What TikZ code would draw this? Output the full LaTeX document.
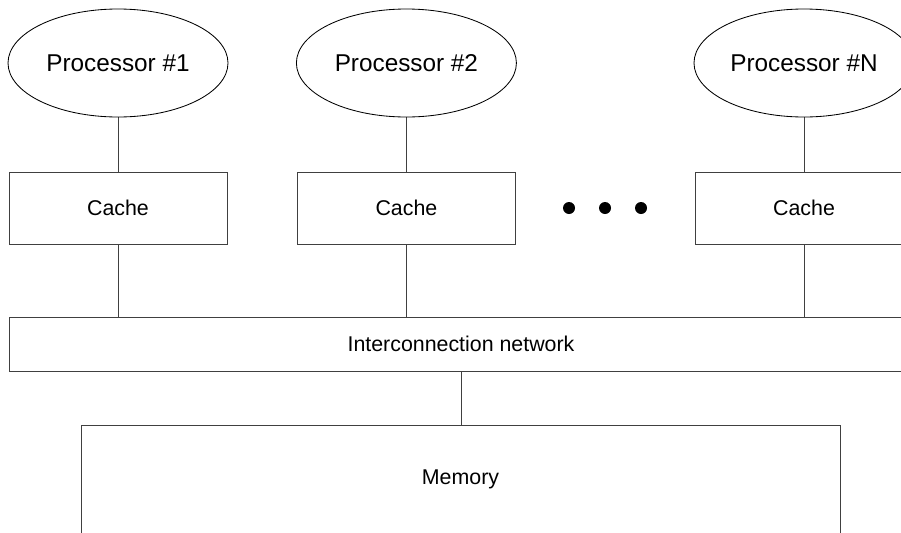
\documentclass[tikz,border=0pt]{standalone}
\usepackage{fontspec}
\setmainfont{Liberation Sans}
\usepackage{tikz}
\usetikzlibrary{shapes.geometric}
\pgfdeclarelayer{bg}
\pgfsetlayers{bg,main}

\begin{document}
\begin{tikzpicture}[
    proc/.style={ellipse, draw, line width=0.6pt, inner sep=0pt, minimum width=5.5cm, minimum height=2.7cm, font=\fontsize{17.3}{20}\selectfont},
    unit/.style={rectangle, draw=black!75, line width=0.7pt, inner sep=0pt, font=\fontsize{15.2}{18}\selectfont},
    dot/.style={circle, fill, inner sep=0pt, minimum size=0.3cm},
    link/.style={draw=black!75, line width=0.7pt}]
    \useasboundingbox (0cm, 0cm) rectangle (22.525cm, -13.3cm);

    \node (p1) [proc] at (2.95cm, -1.575cm) {Processor \#1};
    \node (p2) [proc] at (10.16cm, -1.575cm) {Processor \#2};
    \node (pn) [proc] at (20.1cm, -1.575cm) {Processor \#N};

    \node (c1) [unit, minimum width=5.45cm, minimum height=1.8cm] at (2.95cm, -5.2cm) {Cache};
    \node (c2) [unit, minimum width=5.45cm, minimum height=1.8cm] at (10.16cm, -5.2cm) {Cache};
    \node (cn) [unit, minimum width=5.45cm, minimum height=1.8cm] at (20.1cm, -5.2cm) {Cache};

    \node (d1) [dot] at (14.225cm, -5.2cm) {};
    \node (d2) [dot] at (15.125cm, -5.2cm) {};
    \node (d3) [dot] at (16.025cm, -5.2cm) {};

    \node (net) [unit, minimum width=22.6cm, minimum height=1.35cm] at (11.525cm, -8.6cm) {Interconnection network};
    \node (mem) [unit, minimum width=18.975cm, minimum height=2.725cm] at (11.5125cm, -11.9875cm) {Memory};

    \begin{pgfonlayer}{bg}
        \draw (p1) edge[link] (c1);
        \draw (p2) edge[link] (c2);
        \draw (pn) edge[link] (cn);
        \draw (c1) edge[link] (c1 |- net.north);
        \draw (c2) edge[link] (c2 |- net.north);
        \draw (cn) edge[link] (cn |- net.north);
        \draw (net) edge[link] (net |- mem.north);
    \end{pgfonlayer}
\end{tikzpicture}
\end{document}
